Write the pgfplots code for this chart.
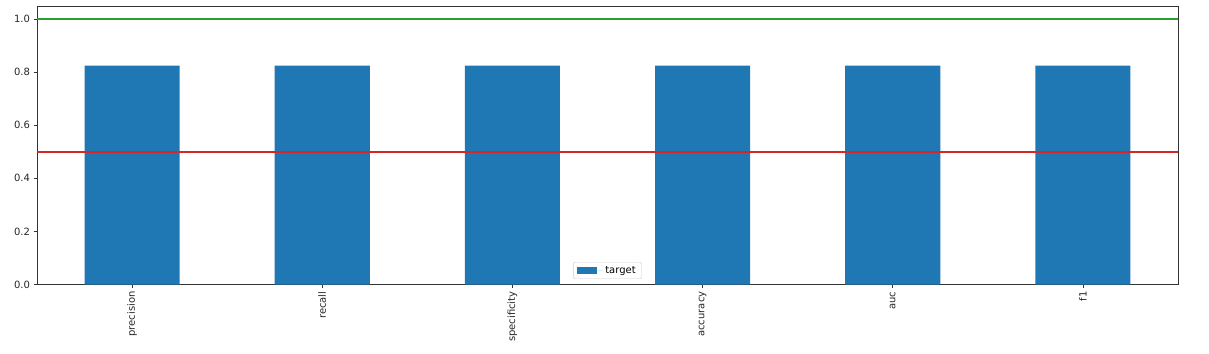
\documentclass[border=0pt]{standalone}
\usepackage{fontspec}
\setmainfont{DejaVu Sans}
\usepackage{pgfplots}
\pgfplotsset{compat=1.18}
\definecolor{mblue}{HTML}{1F77B4}
\definecolor{mgreen}{HTML}{2CA02C}
\definecolor{mred}{HTML}{D62728}
\begin{document}
\begin{tikzpicture}
\begin{axis}[
  scale only axis,
  width=1141pt, height=278pt,
  xmin=-0.5, xmax=5.5, ymin=0, ymax=1.0475,
  xtick={0,1,2,3,4,5},
  xticklabels={precision,recall,specificity,accuracy,auc,f1},
  x tick label style={rotate=90, anchor=east, font=\fontsize{10}{12}\selectfont, text=black!85},
  ytick={0,0.2,0.4,0.6,0.8,1.0},
  y tick label style={font=\fontsize{10}{12}\selectfont, text=black!85},
  yticklabel style={/pgf/number format/.cd, fixed, fixed zerofill, precision=1, assume math mode=true},
  tick align=outside,
  major tick length=3.5pt,
  tick style={black!80, line width=0.8pt},
  axis line style={black!80, line width=0.8pt},
  xtick pos=bottom, ytick pos=left,
  legend style={at={(0.5,0.02)}, anchor=south, draw=black!20, rounded corners=2pt, font=\fontsize{10}{12}\selectfont, inner xsep=4pt, inner ysep=2pt},
  legend cell align=left,
  legend image code/.code={\fill[mblue, sharp corners] (0pt,-3.5pt) rectangle (20pt,3.5pt); \path (20pt,0pt) -- (26pt,0pt);},
]
\addplot[ybar, bar width=0.5, fill=mblue, draw=none] coordinates {(0,0.825) (1,0.825) (2,0.825) (3,0.825) (4,0.825) (5,0.825)};
\addlegendentry{target}
\addplot[mred, line width=1.5pt, forget plot] coordinates {(-0.5,0.5) (5.5,0.5)};
\addplot[mgreen, line width=1.5pt, forget plot] coordinates {(-0.5,1.0) (5.5,1.0)};
\end{axis}
\useasboundingbox ([xshift=-37pt,yshift=-68.5pt]current axis.south west) rectangle ([xshift=31pt,yshift=6.5pt]current axis.north east);
\end{tikzpicture}
\end{document}
